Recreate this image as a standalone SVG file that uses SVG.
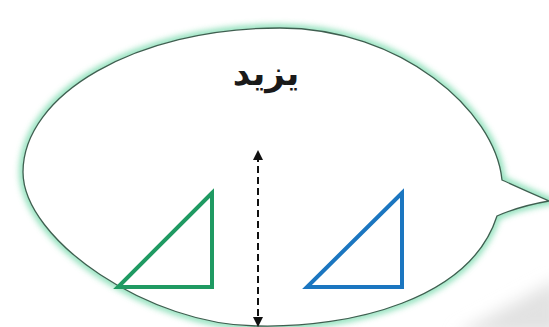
<svg xmlns="http://www.w3.org/2000/svg" width="549" height="327" viewBox="0 0 549 327">
<style>
.bubble{fill:#ffffff;stroke:#3f5f50;stroke-width:1.3}
.glow{fill:none;stroke:#6fd8a8;stroke-width:7;opacity:0.85}
.tri{fill:none;stroke-width:4;stroke-linejoin:miter}
.lbl{font-family:"DejaVu Sans",sans-serif;font-weight:bold;font-size:34px;fill:#1a1a1a}
.conn{stroke:#111;stroke-width:2;stroke-dasharray:7 4;fill:none}
</style>
<defs>
<filter id="blur" x="-10%" y="-10%" width="120%" height="120%"><feGaussianBlur stdDeviation="3"/></filter>
<filter id="soft" x="-20%" y="-20%" width="140%" height="140%"><feGaussianBlur stdDeviation="8"/></filter>
<marker id="ah" viewBox="0 0 10 10" refX="5" refY="5" markerWidth="5" markerHeight="5" orient="auto-start-reverse" markerUnits="strokeWidth"><path d="M0,0 L10,5 L0,10 Z" fill="#111"/></marker>
</defs>
<rect width="549" height="327" fill="#ffffff"/>
<polygon points="455,335 560,278 560,335" fill="#e2e2e2" filter="url(#soft)"/>
<g id="bubble">
<path class="glow" filter="url(#blur)" d="M502,180 C495,110 400,28 280,28 C135,28 23,95 23,172 C23,240 150,326 258,326 C350,328 470,300 497,216 Q520,206 549,201 Q524,190 502,180 Z"/>
<path class="bubble" d="M502,180 C495,110 400,28 280,28 C135,28 23,95 23,172 C23,240 150,326 258,326 C350,328 470,300 497,216 Q520,206 549,201 Q524,190 502,180 Z"/>
</g>
<g id="label"><text class="lbl" x="266" y="85" text-anchor="middle">يزيد</text></g>
<g id="green-triangle"><polygon class="tri" stroke="#1f9a62" points="212,193 118,287 212,287"/></g>
<g id="blue-triangle"><polygon class="tri" stroke="#1b76c0" points="402,193 307,287 402,287"/></g>
<g id="connectors">
<line class="conn" x1="258" y1="155" x2="258" y2="322" marker-start="url(#ah)" marker-end="url(#ah)"/>
</g>
</svg>
